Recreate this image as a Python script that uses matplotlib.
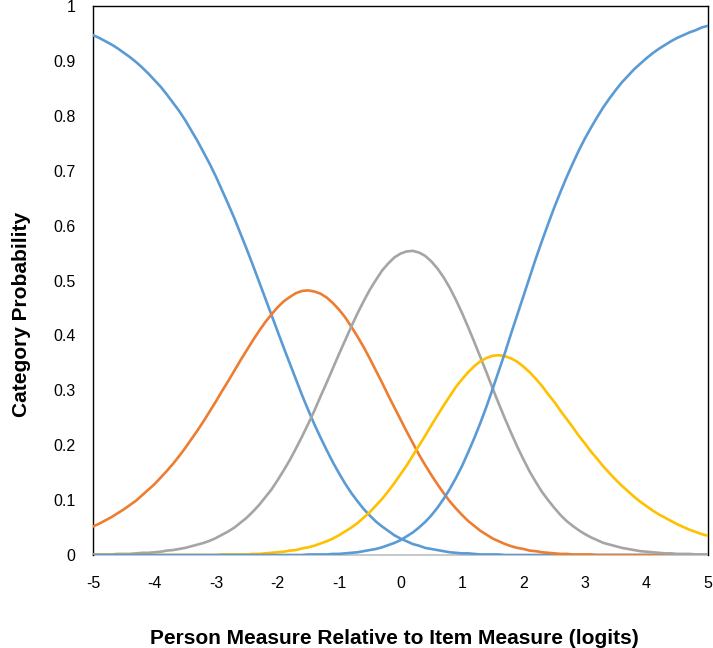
import matplotlib
matplotlib.use("Agg")
import matplotlib.pyplot as plt

# person measure relative to item measure (logits), 0.1 steps
logits = [-5.0, -4.9, -4.8, -4.7, -4.6, -4.5, -4.4, -4.3, -4.2, -4.1,
          -4.0, -3.9, -3.8, -3.7, -3.6, -3.5, -3.4, -3.3, -3.2, -3.1,
          -3.0, -2.9, -2.8, -2.7, -2.6, -2.5, -2.4, -2.3, -2.2, -2.1,
          -2.0, -1.9, -1.8, -1.7, -1.6, -1.5, -1.4, -1.3, -1.2, -1.1,
          -1.0, -0.9, -0.8, -0.7, -0.6, -0.5, -0.4, -0.3, -0.2, -0.1,
          0.0, 0.1, 0.2, 0.3, 0.4, 0.5, 0.6, 0.7, 0.8, 0.9,
          1.0, 1.1, 1.2, 1.3, 1.4, 1.5, 1.6, 1.7, 1.8, 1.9,
          2.0, 2.1, 2.2, 2.3, 2.4, 2.5, 2.6, 2.7, 2.8, 2.9,
          3.0, 3.1, 3.2, 3.3, 3.4, 3.5, 3.6, 3.7, 3.8, 3.9,
          4.0, 4.1, 4.2, 4.3, 4.4, 4.5, 4.6, 4.7, 4.8, 4.9, 5.0]

# category probabilities, per mille
cat1 = [947, 942, 936, 930, 923, 915, 907, 898, 888, 877,
        865, 853, 839, 824, 809, 792, 773, 754, 733, 712,
        689, 664, 639, 613, 585, 557, 528, 498, 468, 438,
        408, 378, 349, 320, 291, 264, 238, 214, 191, 169,
        149, 130, 113, 98, 84, 72, 61, 52, 44, 36,
        30, 25, 20, 17, 13, 11, 9, 7, 5, 4,
        3, 3, 2, 1, 1, 1, 1, 0, 0, 0,
        0, 0, 0, 0, 0, 0, 0, 0, 0, 0,
        0, 0, 0, 0, 0, 0, 0, 0, 0, 0,
        0, 0, 0, 0, 0, 0, 0, 0, 0, 0, 0]
cat2 = [52, 57, 63, 69, 76, 83, 91, 99, 109, 119,
        129, 141, 153, 166, 180, 195, 211, 227, 244, 262,
        280, 299, 317, 336, 355, 373, 391, 408, 424, 438,
        451, 462, 470, 477, 481, 482, 480, 476, 469, 459,
        447, 433, 416, 398, 379, 358, 336, 314, 291, 269,
        247, 225, 204, 183, 164, 146, 129, 113, 98, 85,
        73, 62, 53, 44, 37, 30, 25, 20, 16, 13,
        11, 8, 7, 5, 4, 3, 2, 2, 1, 1,
        1, 1, 0, 0, 0, 0, 0, 0, 0, 0,
        0, 0, 0, 0, 0, 0, 0, 0, 0, 0, 0]
cat3 = [1, 1, 1, 1, 2, 2, 2, 3, 4, 4,
        5, 6, 8, 9, 11, 13, 16, 19, 22, 26,
        31, 37, 43, 50, 59, 68, 79, 91, 105, 119,
        136, 154, 173, 194, 216, 239, 263, 289, 314, 340,
        366, 391, 416, 440, 462, 483, 501, 518, 531, 542,
        549, 553, 554, 551, 545, 535, 522, 506, 487, 465,
        441, 415, 388, 360, 332, 303, 275, 248, 222, 197,
        174, 152, 133, 115, 100, 86, 73, 62, 53, 45,
        38, 32, 27, 22, 19, 16, 13, 11, 9, 7,
        6, 5, 4, 3, 3, 2, 2, 2, 1, 1, 1]
cat4 = [0, 0, 0, 0, 0, 0, 0, 0, 0, 0,
        0, 0, 0, 0, 0, 0, 0, 0, 0, 0,
        0, 1, 1, 1, 1, 1, 2, 2, 3, 4,
        5, 6, 8, 9, 12, 14, 17, 21, 25, 30,
        36, 43, 50, 58, 68, 78, 90, 102, 116, 131,
        147, 163, 181, 199, 217, 236, 254, 272, 289, 306,
        320, 333, 344, 353, 359, 363, 364, 362, 358, 352,
        343, 333, 321, 308, 293, 279, 263, 248, 233, 217,
        203, 188, 175, 161, 149, 137, 126, 116, 106, 97,
        89, 81, 74, 68, 62, 56, 51, 46, 42, 38, 35]
cat5 = [0, 0, 0, 0, 0, 0, 0, 0, 0, 0,
        0, 0, 0, 0, 0, 0, 0, 0, 0, 0,
        0, 0, 0, 0, 0, 0, 0, 0, 0, 0,
        0, 0, 0, 0, 0, 1, 1, 1, 1, 2,
        2, 3, 4, 5, 7, 9, 11, 14, 18, 22,
        27, 34, 41, 50, 60, 72, 86, 102, 120, 140,
        162, 187, 213, 241, 271, 303, 336, 369, 404, 438,
        472, 506, 540, 572, 603, 633, 661, 688, 713, 737,
        759, 779, 798, 816, 832, 847, 861, 873, 885, 895,
        905, 914, 922, 929, 936, 942, 947, 952, 956, 961, 964]

x_ticks = [-5, -4, -3, -2, -1, 0, 1, 2, 3, 4, 5]
y_ticks = [0, 0.1, 0.2, 0.3, 0.4, 0.5, 0.6, 0.7, 0.8, 0.9, 1]
y_tick_labels = ["0", "0.1", "0.2", "0.3", "0.4", "0.5", "0.6", "0.7", "0.8", "0.9", "1"]

plt.rcParams["font.family"] = ["Liberation Sans", "DejaVu Sans"]

fig = plt.figure(figsize=(7.13, 6.48), dpi=100)
ax = fig.add_axes([0.1304, 0.1435, 0.8626, 0.8472])

series = [(cat1, "#5B9BD5"), (cat2, "#ED7D31"), (cat3, "#A5A5A5"),
          (cat4, "#FFC000"), (cat5, "#5B9BD5")]
for vals, color in series:
    ax.plot(logits, [v / 1000 for v in vals], color=color, lw=1.9, zorder=3)

ax.set_xlim(-5, 5)
ax.set_ylim(0, 1)
ax.set_xticks(x_ticks)
ax.set_xticklabels([str(t) for t in x_ticks])
ax.set_yticks(y_ticks)
ax.set_yticklabels(y_tick_labels)
ax.tick_params(length=0, labelsize=11.5, colors="black")
ax.tick_params(axis="x", pad=15)
ax.tick_params(axis="y", pad=12.5)

for side in ["left", "top", "right"]:
    ax.spines[side].set_color("black")
    ax.spines[side].set_linewidth(1.0)
ax.spines["bottom"].set_color("#BFBFBF")
ax.spines["bottom"].set_linewidth(1.2)
ax.spines["bottom"].set_zorder(2)

ax.set_xlabel("Person Measure Relative to Item Measure (logits)",
              fontsize=15, fontweight="bold", va="center")
ax.set_ylabel("Category Probability", fontsize=15, fontweight="bold", va="center")
ax.xaxis.set_label_coords(0.49, -0.152)
ax.yaxis.set_label_coords(-0.117, 0.439)

fig.savefig("out.png", dpi=100)
